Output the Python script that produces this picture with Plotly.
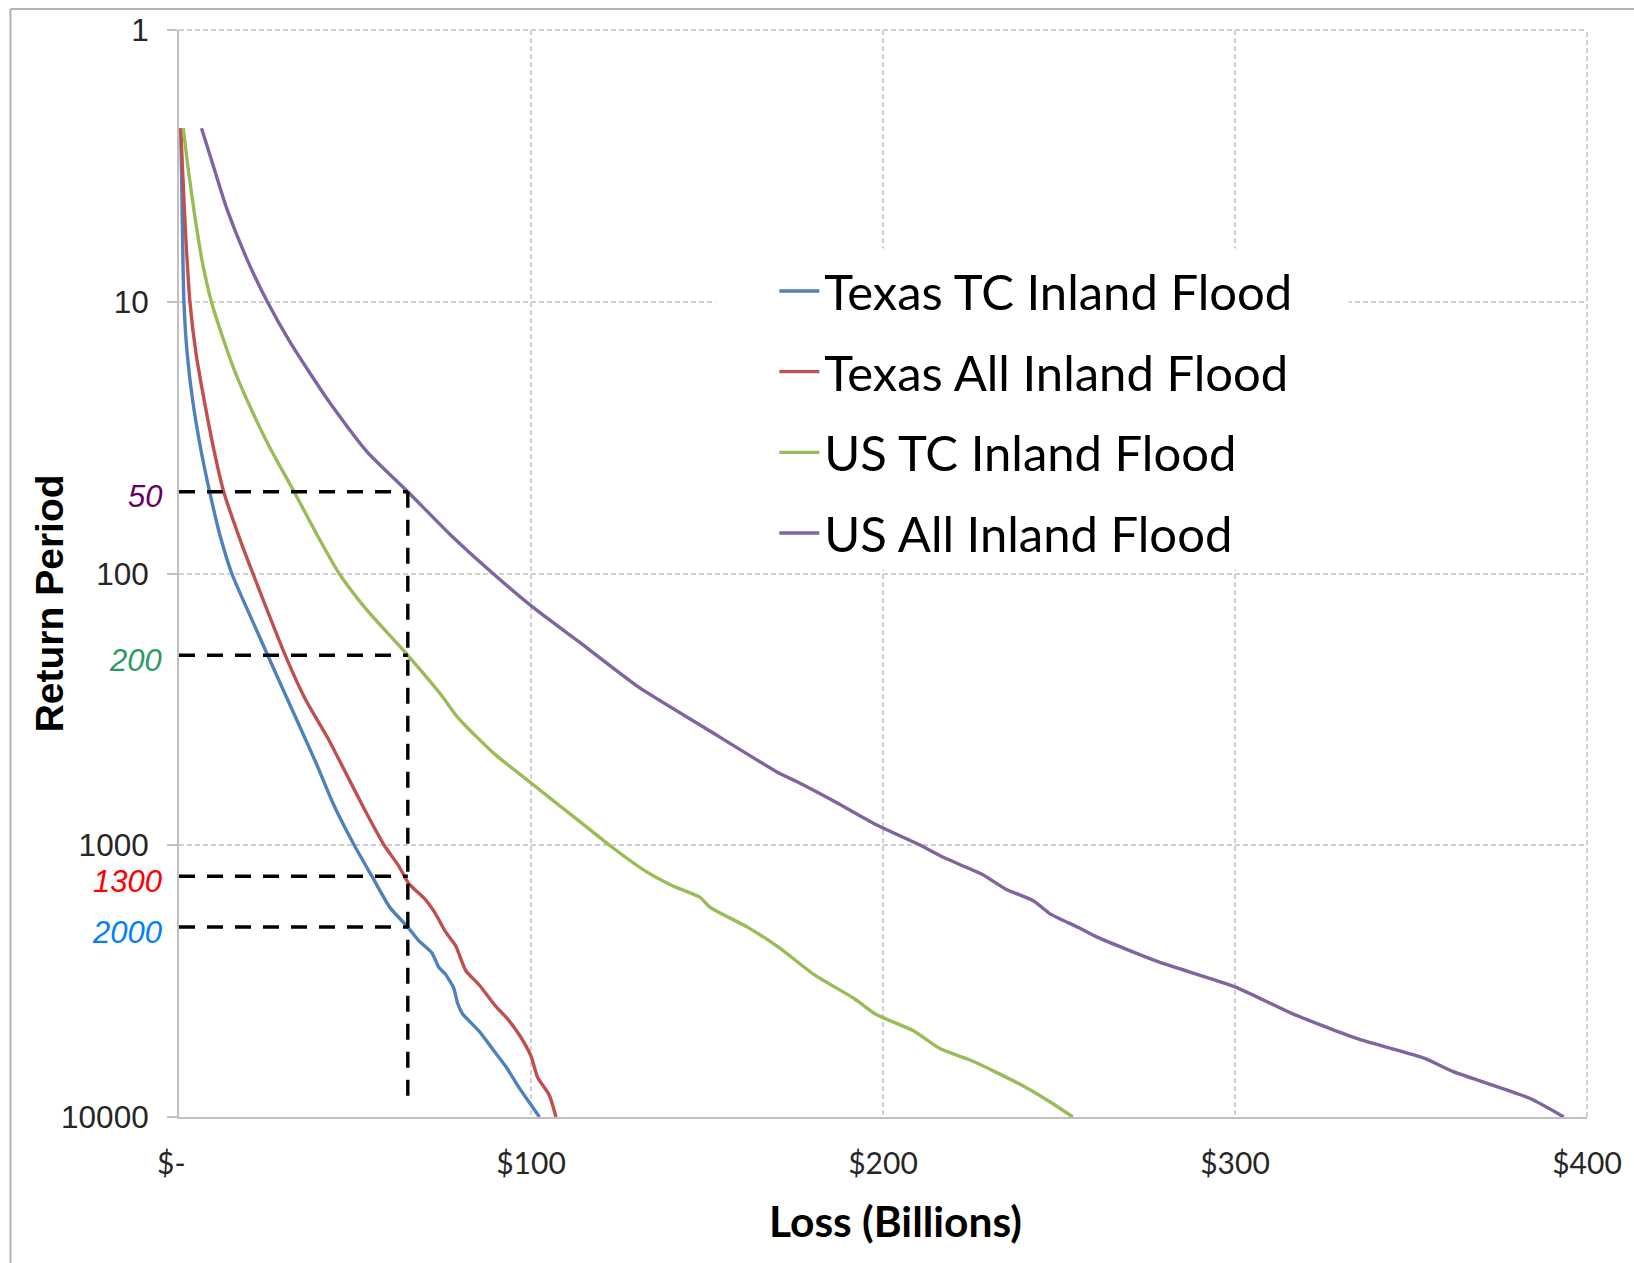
import math
import plotly.graph_objects as go

# ---------------- data (loss in $ billions, return period in years) ----------------
tx_tc_loss = [0.5, 0.7, 1.0, 1.4, 2.3, 3.9, 6.3, 8.7, 11.6, 15.0, 21.7, 25.2, 31.0, 39.0, 43.8,
              49.8, 54.8, 60.0, 65.0, 68.1, 71.9, 73.8, 75.7, 78.1, 79.1, 80.5, 85.3, 89.1,
              92.9, 96.7, 99.5, 102.4]
tx_tc_rp = [2.3, 3.2, 5.7, 10, 15.4, 23.2, 35.5, 50, 72, 100, 158, 200, 294, 500, 703,
            1000, 1300, 1700, 2000, 2244, 2496, 2813, 2985, 3367, 3800, 4160, 4840, 5623,
            6535, 7830, 8830, 10000]

tx_all_loss = [0.5, 1.0, 1.9, 3.1, 4.8, 7.2, 10.0, 12.7, 17.5, 21.0, 30.2, 35.9, 42.5, 47.0,
               52.9, 58.3, 62.4, 65.3, 70.0, 72.9, 75.7, 78.6, 81.5, 85.3, 90.0, 92.9, 96.7,
               100.0, 101.9, 105.2, 107.1]
tx_all_rp = [2.3, 3.24, 5.71, 10, 15.4, 23.2, 35.5, 50, 76, 100, 200, 290, 408, 530,
             746, 1000, 1191, 1384, 1585, 1790, 2080, 2345, 2897, 3268, 3919, 4289, 4990,
             5970, 7157, 8317, 10000]

us_tc_loss = [1.2, 2.6, 4.6, 6.6, 9.2, 12.4, 16.2, 20.6, 25.6, 32.7, 39.2, 45.5, 53.1, 65.0,
              74.5, 79.3, 89.6, 100.0, 113.8, 122.3, 132.4, 140.2, 148.0, 150.9, 161.6, 170.4,
              180.2, 191.9, 197.8, 208.5, 216.3, 225.1, 238.7, 247.5, 253.9]
us_tc_rp = [2.3, 3.24, 4.95, 7.1, 10, 13.5, 18.5, 25, 34, 50, 72, 100, 135, 200,
            280, 340, 461, 590, 817, 1000, 1242, 1409, 1556, 1693, 2005, 2377,
            2978, 3672, 4180, 4809, 5612, 6195, 7551, 8810, 10000]

us_all_loss = [6.4, 10.0, 13.6, 19.7, 25.1, 31.6, 42.5, 53.3, 65.0, 77.1, 89.2, 100.5, 113.3,
               130.6, 149.1, 170.8, 175.3, 186.0, 197.8, 210.6, 217.3, 228.0, 234.9, 242.7,
               247.6, 255.4, 261.0, 278.3, 300.0, 316.1, 334.5, 353.9, 362.0, 383.7, 393.4]
us_all_rp = [2.3, 3.24, 4.55, 7.16, 10, 14.1, 23.2, 35.5, 50, 72, 100, 133, 177,
             262, 368, 546, 581, 687, 837, 1000, 1110, 1277, 1451, 1600,
             1792, 2005, 2183, 2687, 3318, 4155, 5139, 6085, 6812, 8536, 10000]

series_names = ["Texas TC Inland Flood", "Texas All Inland Flood",
                "US TC Inland Flood", "US All Inland Flood"]
series_colors = ["#4F81BD", "#C0504D", "#9BBB59", "#8064A2"]

# reference markers
ref_loss = 65
ref_rps = [50, 200, 1300, 2000]
ref_label_colors = ["#660066", "#2E9966", "#FF0000", "#0080FF"]
ref_vertical_rp = [50, 8800]

x_tickvals = [0, 100, 200, 300, 400]
x_ticktext = ["$-&nbsp;&nbsp;", "$100", "$200", "$300", "$400"]
y_tickvals = [1, 10, 100, 1000, 10000]
y_ticktext = ["1", "10", "100", "1000", "10000"]

# ---------------- figure ----------------
W, H = 1634, 1263
L, R, T, B = 179, 43, 28, 146
pw, ph = W - L - R, H - T - B


def px_x(x):
    return (x - L) / pw


def px_y(y):
    return (H - B - y) / ph


GRID = "#d0d0d0"
GRID_DASH = "5px,3px"

fig = go.Figure()

series = [(tx_tc_loss, tx_tc_rp), (tx_all_loss, tx_all_rp),
          (us_tc_loss, us_tc_rp), (us_all_loss, us_all_rp)]
for i, ((xs, ys), name, col) in enumerate(zip(series, series_names, series_colors)):
    fig.add_trace(go.Scatter(x=xs, y=ys, mode="lines", name=name,
                             legendgroup=f"g{i}",
                             line=dict(color=col, width=3.4, shape="spline", smoothing=0.6)))

# dashed reference lines
for rp in ref_rps:
    fig.add_trace(go.Scatter(x=[0, ref_loss], y=[rp, rp], mode="lines", showlegend=False,
                             hoverinfo="skip",
                             line=dict(color="black", width=3.4, dash="16px,12px")))
fig.add_trace(go.Scatter(x=[ref_loss, ref_loss], y=ref_vertical_rp, mode="lines",
                         showlegend=False, hoverinfo="skip",
                         line=dict(color="black", width=3.4, dash="16px,12px")))

annotations = []
for rp, col in zip(ref_rps, ref_label_colors):
    annotations.append(dict(xref="x", yref="y", x=0, y=math.log10(rp),
                            text=f"<i>{rp}</i>", showarrow=False,
                            xanchor="right", yanchor="middle", xshift=-15, yshift=-5,
                            font=dict(family="Liberation Sans, Arial", size=31, color=col)))

annotations.append(dict(xref="paper", yref="paper", x=px_x(50), y=px_y(602),
                        text="<b>Return Period</b>", textangle=-90, showarrow=False,
                        xanchor="center", yanchor="middle",
                        font=dict(family="Liberation Sans, Arial", size=39, color="black")))
annotations.append(dict(xref="paper", yref="paper", x=px_x(898), y=px_y(1221),
                        text="<b>Loss (Billions)</b>", showarrow=False,
                        xanchor="center", yanchor="middle",
                        font=dict(family="Lato, Carlito, sans-serif", size=42.5, color="black")))

shapes = [
    # white legend box hiding gridlines
    dict(type="rect", xref="paper", yref="paper", x0=px_x(717), x1=px_x(1352),
         y0=px_y(569), y1=px_y(247), fillcolor="white", line=dict(width=0), layer="above"),
    # edge gridlines (top: return period 1, right: $400)
    dict(type="line", xref="paper", yref="paper", x0=0, x1=1, y0=1, y1=1,
         line=dict(color=GRID, width=2, dash=GRID_DASH), layer="below"),
    dict(type="line", xref="paper", yref="paper", x0=1, x1=1, y0=0, y1=1,
         line=dict(color=GRID, width=2, dash=GRID_DASH), layer="below"),
    # outer chart border (left + top)
    dict(type="line", xref="paper", yref="paper", x0=px_x(10), x1=px_x(W + 5),
         y0=px_y(7), y1=px_y(7), line=dict(color="#b3b3b3", width=2)),
    dict(type="line", xref="paper", yref="paper", x0=px_x(10), x1=px_x(10),
         y0=px_y(7), y1=px_y(H + 5), line=dict(color="#b3b3b3", width=2)),
]

fig.update_layout(
    width=W, height=H,
    margin=dict(l=L, r=R, t=T, b=B, pad=0),
    paper_bgcolor="white", plot_bgcolor="white",
    showlegend=True,
    legend=dict(x=px_x(776), y=px_y(251), xanchor="left", yanchor="top",
                bgcolor="rgba(0,0,0,0)", borderwidth=0, itemwidth=40,
                tracegroupgap=14,
                font=dict(family="Lato, Carlito, sans-serif", size=49, color="black")),
    annotations=annotations,
    shapes=shapes,
    xaxis=dict(range=[0, 400], tickvals=x_tickvals, ticktext=x_ticktext,
               showline=True, linecolor="#bfbfbf", linewidth=2,
               showgrid=True, gridcolor=GRID, gridwidth=2, griddash=GRID_DASH,
               zeroline=False, ticks="", ticklabelstandoff=19,
               tickfont=dict(family="Lato, Carlito, sans-serif", size=30, color="#262626")),
    yaxis=dict(type="log", range=[4, 0], tickvals=y_tickvals, ticktext=y_ticktext,
               showline=True, linecolor="#bfbfbf", linewidth=2,
               showgrid=True, gridcolor=GRID, gridwidth=2, griddash=GRID_DASH,
               zeroline=False, ticks="outside", ticklen=10, tickcolor="#bfbfbf", tickwidth=2,
               ticklabelstandoff=12,
               tickfont=dict(family="Liberation Sans, Arial", size=31.5, color="#262626")),
)

fig.write_html("out.html")
